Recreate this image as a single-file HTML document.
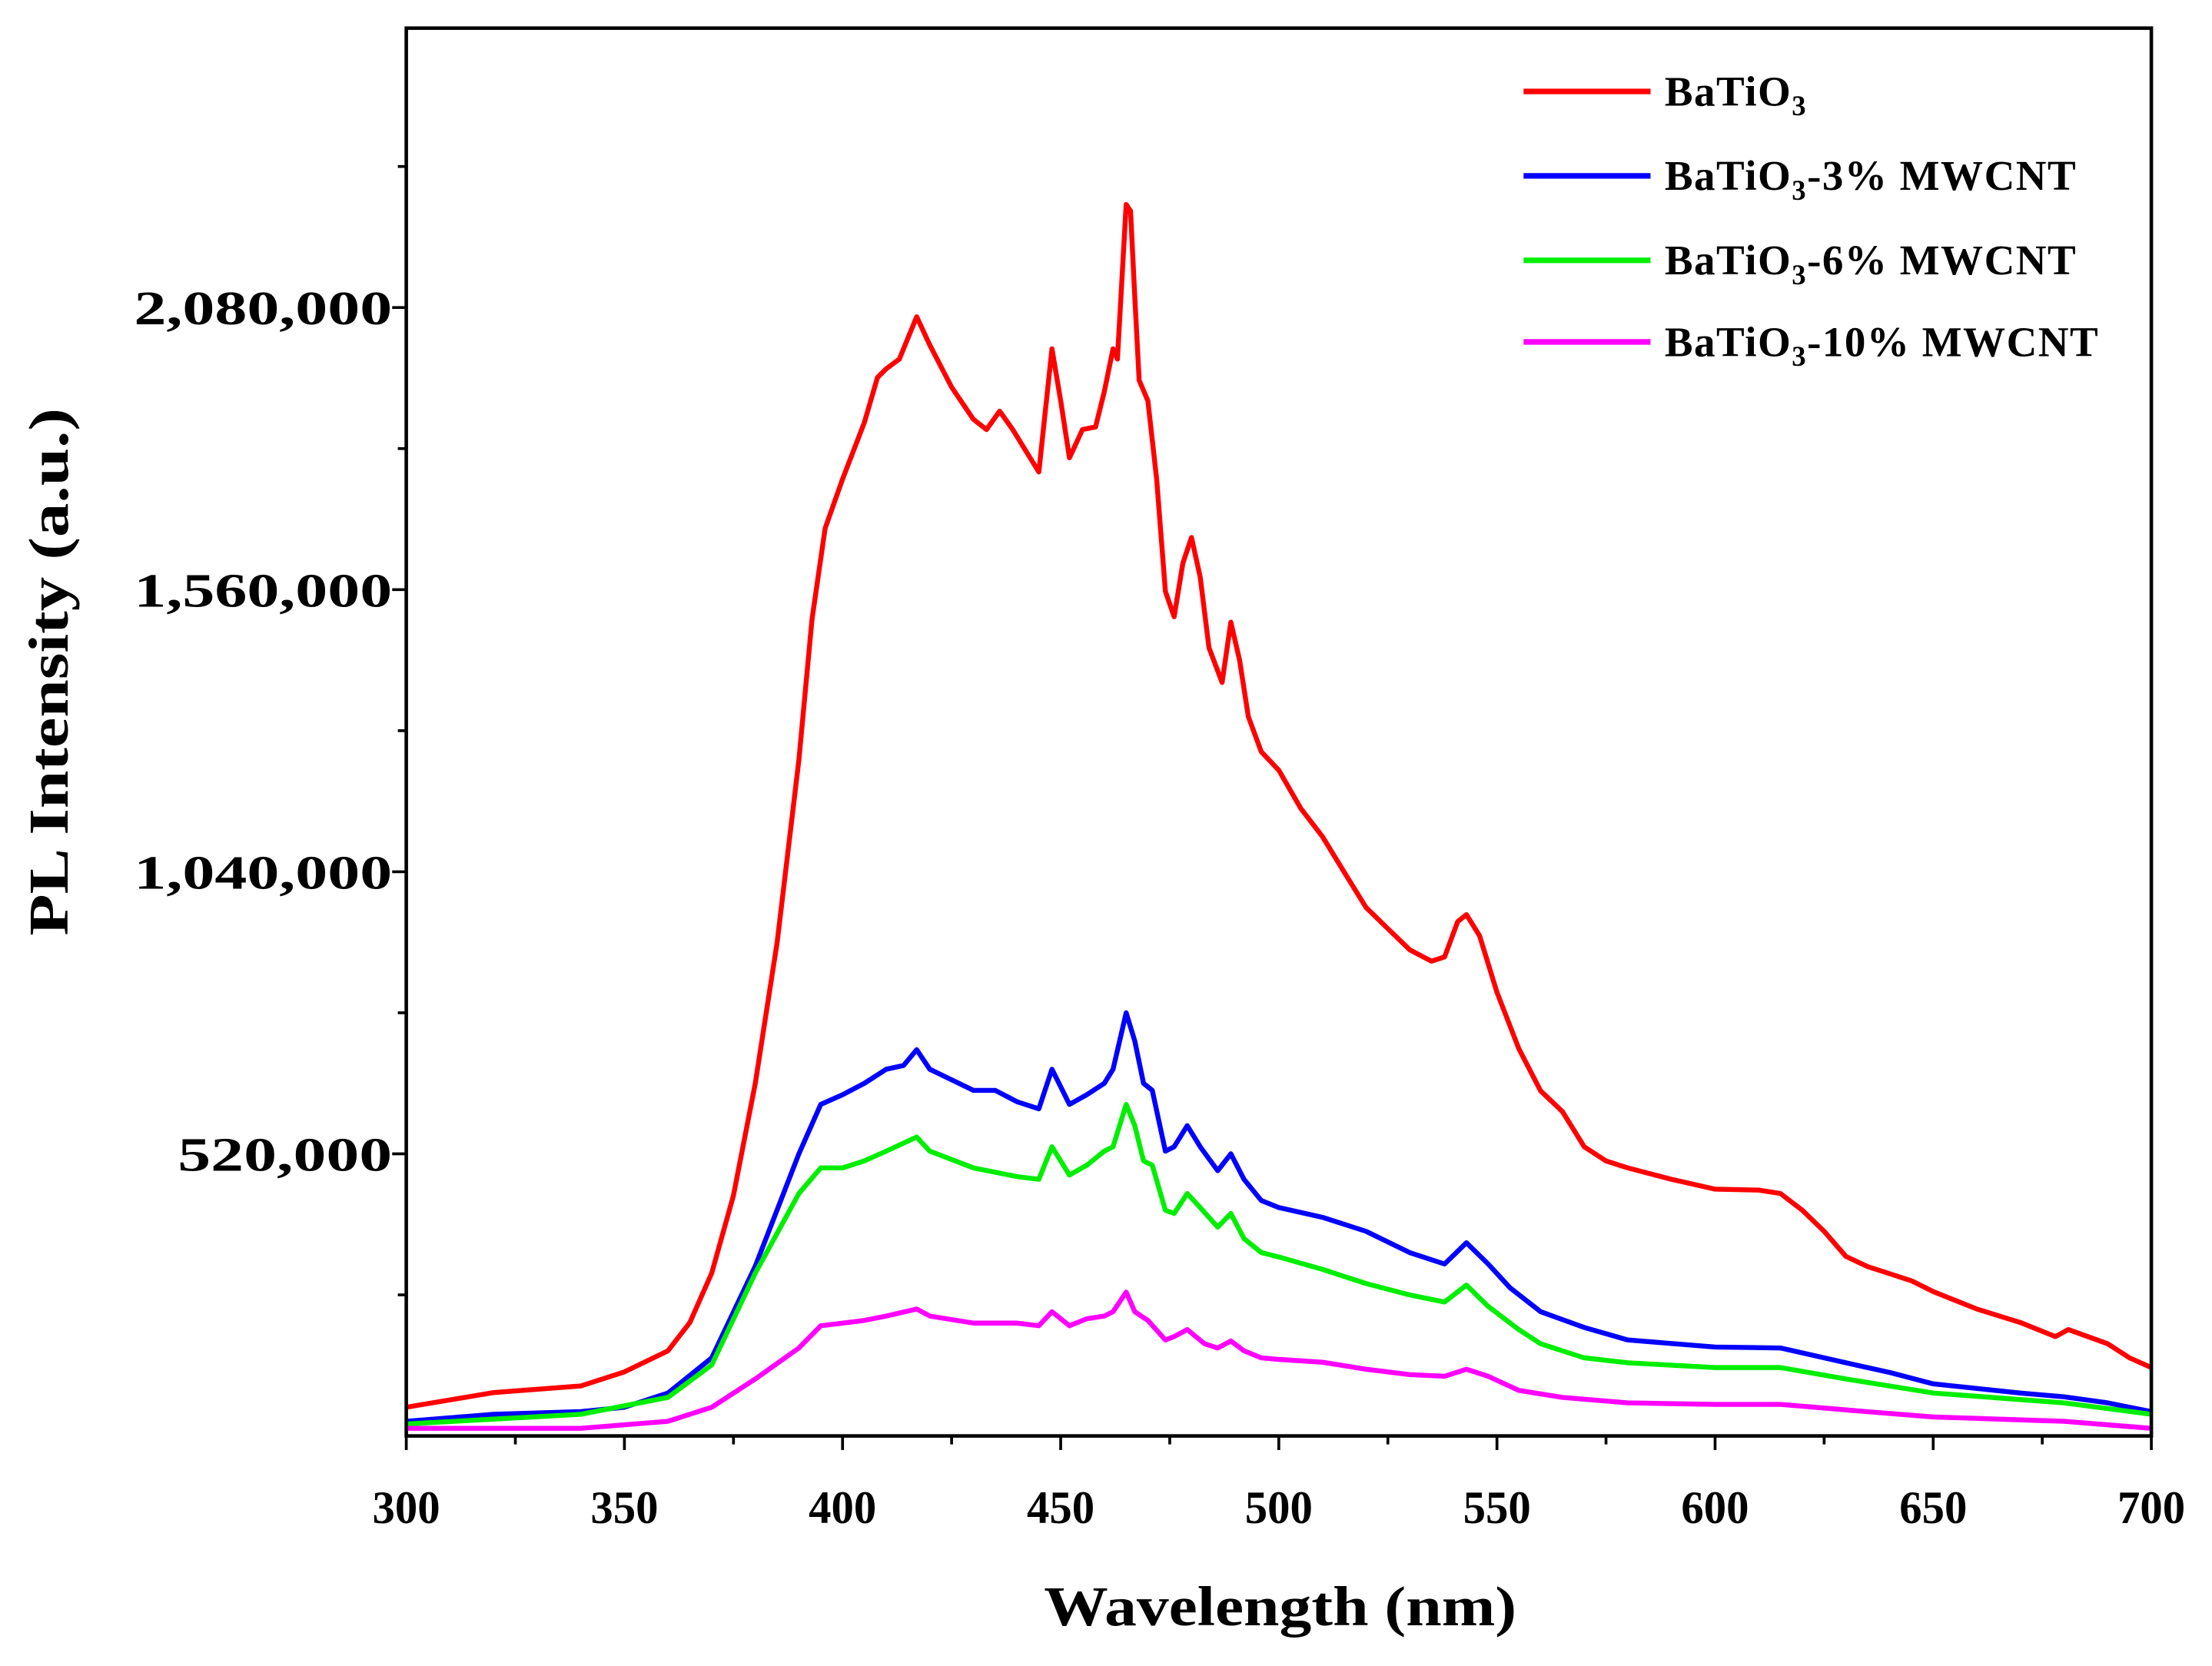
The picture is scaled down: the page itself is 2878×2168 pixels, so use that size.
<!DOCTYPE html>
<html><head><meta charset="utf-8"><style>
html,body{margin:0;padding:0;background:#fff;}
svg{display:block;}
text{font-family:"Liberation Serif",serif;font-weight:bold;fill:#000;}
</style></head><body>
<svg id="chart" width="2878" height="2168" viewBox="0 0 1568 1184" preserveAspectRatio="none" xmlns="http://www.w3.org/2000/svg">
<g id="plot"></g>
</svg>
<script>
const xTicks=[300,350,400,450,500,550,600,650,700];
const yTicks=[520000,1040000,1560000,2080000];
const yTickLabels=["520,000","1,040,000","1,560,000","2,080,000"];
const seriesNames=["BaTiO3","BaTiO3-3% MWCNT","BaTiO3-6% MWCNT","BaTiO3-10% MWCNT"];
const redX=[300,320,340,350,360,365,370,375,380,385,390,393,396,400,405,408,410,413,417,420,425,430,433,436,439,442,445,448,450,452,455,458,460,462,463,465,466,467,468,470,472,474,476,478,480,482,484,487,489,491,493,496,500,505,510,515,520,525,530,535,538,541,543,546,550,555,560,565,570,575,580,590,600,610,615,620,625,630,635,640,645,650,660,670,678,681,690,695,700];
const redY=[53,80,92,118,157,209,300,443,650,910,1246,1505,1673,1764,1868,1951,1967,1985,2063,2011,1933,1874,1855,1889,1855,1816,1777,2004,1908,1803,1855,1860,1925,2004,1985,2270,2258,2100,1946,1908,1764,1557,1510,1609,1656,1583,1453,1389,1500,1430,1326,1261,1227,1157,1105,1039,974,935,896,875,883,948,961,922,818,714,636,598,533,507,494,473,455,453,447,416,377,331,312,299,286,266,234,209,183,196,170,144,126];
const blueX=[300,320,340,350,360,370,380,390,395,400,405,410,414,417,420,430,435,440,445,448,452,456,460,462,465,467,469,471,474,476,479,482,486,489,492,496,500,510,520,530,538,543,548,553,560,570,580,600,615,630,640,650,670,680,690,700];
const blueY=[27,40,45,53,79,144,313,520,611,629,650,676,683,712,676,637,637,616,603,676,611,629,650,676,780,728,650,637,525,533,572,533,489,520,473,434,421,403,377,338,317,356,317,273,229,200,177,164,162,135,117,96,79,72,61,45];
const greenX=[300,340,360,370,380,390,395,400,405,410,417,420,430,440,445,448,452,456,460,462,465,467,469,471,474,476,479,482,486,489,492,496,500,510,520,530,538,543,548,555,560,570,580,600,615,630,650,680,700];
const greenY=[22,40,71,131,300,447,494,494,507,525,551,525,494,478,473,533,481,499,525,533,611,572,507,499,416,410,447,421,385,410,364,338,330,307,281,260,247,278,239,196,170,144,135,126,126,105,79,61,40];
const magX=[300,340,360,370,380,390,395,400,405,410,417,420,430,440,445,448,452,456,460,462,465,467,470,474,476,479,483,486,489,492,496,500,510,520,530,538,543,548,555,565,580,600,615,630,650,680,700];
const magY=[14,14,27,53,105,162,203,208,213,221,234,221,208,208,203,229,203,216,221,229,265,229,213,177,183,196,170,162,175,157,144,141,136,123,113,110,123,110,84,71,61,58,58,48,35,27,14];

const NS="http://www.w3.org/2000/svg";
const L=288,R=1525,T=20,B=1020.5,YMAX=2595000;
const sx=v=>L+(v-300)/400*(R-L);
const sy=v=>B-v/YMAX*(B-T);
const g=document.getElementById('plot');
function mk(tag,attrs,parent){const e=document.createElementNS(NS,tag);for(const k in attrs)e.setAttribute(k,attrs[k]);(parent||g).appendChild(e);return e;}

const series=[[redX,redY,"#ff0000"],[blueX,blueY,"#0000ff"],[greenX,greenY,"#00ee00"],[magX,magY,"#ff00ff"]];
series.forEach((s,i)=>{
  const d=s[0].map((x,j)=>(j?'L':'M')+sx(x).toFixed(1)+','+sy(s[1][j]*1000).toFixed(1)).join('');
  const p=mk('path',{d:d,fill:'none',stroke:s[2],'stroke-width':3.5,'stroke-linejoin':'round'});
  
  
});

const fr=mk('rect',{x:L,y:T,width:R-L,height:B-T,fill:'none',stroke:'#000','stroke-width':2.5});



for(let v=300;v<=700;v+=25){
  const major=v%50===0;
  const t=mk('line',{x1:sx(v),x2:sx(v),y1:B,y2:B+(major?10:6),stroke:'#000','stroke-width':2});
  
  
}
xTicks.forEach(v=>{
  const t=mk('text',{x:sx(v),y:B+62,'text-anchor':'middle','font-size':33,textLength:48,lengthAdjust:'spacingAndGlyphs'});
  t.textContent=v;
  
  
});
for(let v=260000;v<YMAX;v+=260000){
  const major=v%520000===0;
  const t=mk('line',{x1:L,x2:L-(major?10:6),y1:sy(v),y2:sy(v),stroke:'#000','stroke-width':2});
  
  
}
yTicks.forEach((v,i)=>{
  const w=yTickLabels[i].length===7?152:183;
  const t=mk('text',{x:L-10-w,y:sy(v)+12,'font-size':34,textLength:w,lengthAdjust:'spacingAndGlyphs'});
  t.textContent=yTickLabels[i];
  
  
});
const xt=mk('text',{x:740,y:1155,'font-size':40,textLength:335,lengthAdjust:'spacingAndGlyphs'});
xt.textContent='Wavelength (nm)';


const yt=mk('text',{x:-665,y:48,'font-size':40,textLength:375,lengthAdjust:'spacingAndGlyphs',transform:'rotate(-90)'});
yt.textContent='PL  Intensity (a.u.)';



const ly=[65,125,185,243];
const suffix=["","-3% MWCNT","-6% MWCNT","-10% MWCNT"];
series.forEach((s,i)=>{
  const ln=mk('line',{x1:1080,x2:1170,y1:ly[i],y2:ly[i],stroke:s[2],'stroke-width':4});
  
  
  const t=mk('text',{x:1180,y:ly[i]+10,'font-size':30,'letter-spacing':'0.8'});
  
  
  const a=document.createElementNS(NS,'tspan');a.textContent='BaTiO';t.appendChild(a);
  const b=document.createElementNS(NS,'tspan');b.textContent='3';b.setAttribute('font-size','20');b.setAttribute('dy','7');t.appendChild(b);
  if(suffix[i]){const c=document.createElementNS(NS,'tspan');c.textContent=suffix[i];c.setAttribute('dy','-7');t.appendChild(c);}
});
</script>
</body></html>
